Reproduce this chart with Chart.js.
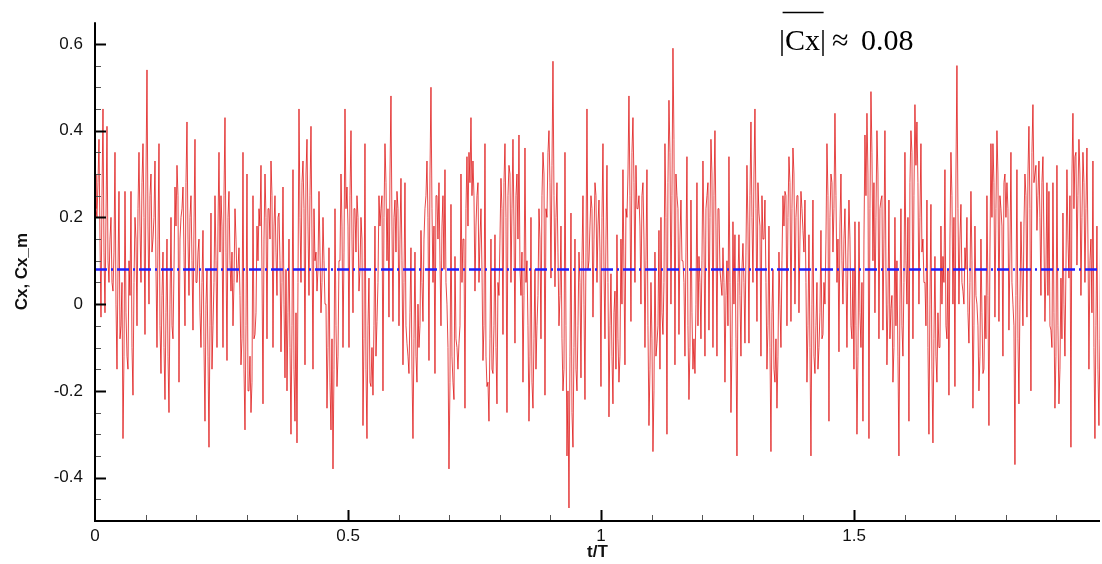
<!DOCTYPE html>
<html>
<head>
<meta charset="utf-8">
<script src="https://cdn.jsdelivr.net/npm/chart.js@4/dist/chart.umd.min.js"></script>
<style>
html,body{margin:0;padding:0;background:#fff;}
#wrap{width:1102px;height:564px;position:relative;}
</style>
</head>
<body>
<div id="wrap"><canvas id="c" width="1102" height="564"></canvas></div>
<script>
const dt = 0.001976;
// spike readings (even samples), one array per 1/8 of the record
const cx1 = [0.30,0.20,0.38,-0.03,0.45,-0.02,0.41,0.05,0.20,0.03,0.35,-0.15,0.26,-0.05,-0.31,0.26,-0.12,0.10,0.26,-0.21,0.20,-0.05,0.35,0.05,0.37,-0.07,0.54,0.00,0.30,0.15,0.33,-0.10,0.37,-0.16,0.12,-0.22,0.15,-0.25,0.20,-0.08,0.27,0.32,-0.18,0.20,0.27,-0.05,0.42,0.02,0.25,-0.06,0.38,0.05,0.15,-0.10,0.17,-0.27,0.08,-0.33,0.21,-0.05,0.25,-0.10,0.35];
const cx2 = [0.25,-0.10,0.43,-0.13,0.26,0.03,-0.05,0.22,0.05,0.13,-0.14,0.35,-0.29,0.30,-0.20,-0.25,0.25,-0.07,0.18,0.22,0.32,-0.23,0.30,-0.08,0.22,0.33,-0.10,0.25,0.02,0.21,-0.11,0.27,-0.17,-0.20,0.15,-0.30,0.31,-0.27,-0.32,0.45,0.05,0.33,-0.14,0.38,0.02,0.41,-0.15,0.10,0.03,0.26,-0.02,0.20,0.00,-0.24,0.13,-0.29,-0.38,0.22,-0.19,0.10,0.30,-0.10,0.45];
const cx3 = [0.27,-0.10,0.40,-0.02,0.22,0.25,0.03,0.20,-0.28,0.37,-0.31,0.06,-0.19,-0.21,0.18,-0.04,0.25,0.22,-0.20,0.37,0.10,-0.03,0.48,-0.04,0.24,0.26,-0.05,0.29,-0.14,0.28,-0.09,-0.16,0.13,-0.31,0.12,-0.18,-0.10,0.17,-0.04,0.22,0.33,-0.13,0.50,0.05,-0.16,0.25,0.28,-0.05,0.25,0.31,0.00,-0.38,0.23,-0.18,0.11,-0.10,-0.09,0.30,0.15,-0.24,0.34,0.35,0.43];
const cx4 = [0.33,0.03,0.25,0.05,0.22,-0.13,0.37,-0.19,-0.27,0.15,-0.16,0.16,-0.23,0.02,0.29,-0.07,0.37,-0.25,0.32,0.05,0.38,-0.09,0.30,0.39,0.02,-0.18,0.36,0.10,-0.27,0.20,-0.24,0.08,-0.05,0.22,-0.08,0.35,-0.21,0.20,0.40,0.06,0.56,0.04,0.28,-0.05,0.18,-0.20,0.35,-0.35,-0.47,0.21,-0.33,0.15,-0.20,0.12,-0.17,0.25,-0.22,0.45,0.10,0.25,-0.03,0.28,0.05];
const cx5 = [0.24,-0.19,0.37,-0.08,0.32,-0.26,0.07,-0.23,0.03,0.16,-0.18,0.15,0.31,-0.14,0.20,0.48,-0.04,0.43,0.05,0.22,0.25,0.00,0.28,-0.10,0.31,-0.28,0.05,-0.34,0.12,-0.09,0.17,0.20,-0.07,0.37,-0.30,0.47,0.00,0.59,-0.14,0.25,-0.07,0.24,0.10,-0.12,0.34,-0.22,0.24,-0.15,-0.16,0.28,0.11,-0.08,0.33,-0.12,0.25,-0.06,0.38,-0.10,0.40,-0.12,0.22,0.05,0.13];
const cx6 = [-0.18,0.10,0.34,-0.25,0.19,0.16,-0.35,0.16,-0.12,0.14,-0.09,0.32,-0.09,0.42,0.05,0.45,-0.04,0.21,-0.12,0.15,0.24,-0.15,0.18,-0.34,0.08,-0.18,-0.24,0.12,-0.10,0.25,0.26,-0.05,0.34,-0.04,0.36,0.00,0.25,-0.02,0.26,0.17,0.24,-0.18,0.16,-0.35,0.24,-0.16,0.05,-0.10,0.17,-0.07,0.00,0.37,-0.27,0.30,0.12,0.44,0.05,-0.11,0.30,0.00,0.22,-0.10,0.24];
const cx7 = [-0.05,0.08,0.19,-0.30,0.19,-0.10,-0.27,0.39,0.44,-0.31,0.49,0.10,-0.02,0.40,-0.08,0.24,-0.06,0.40,-0.14,0.24,-0.01,-0.18,0.20,0.10,-0.35,0.22,-0.12,0.35,0.00,-0.27,0.40,-0.08,0.46,0.42,0.00,0.37,0.15,0.05,0.24,-0.30,0.23,-0.32,0.11,-0.18,-0.10,0.18,0.11,0.31,-0.08,-0.21,0.35,0.00,-0.19,0.55,0.00,0.23,0.03,0.13,0.20,-0.09,0.26,-0.24,0.18];
const cx8 = [0.00,-0.20,0.15,-0.16,0.02,0.25,-0.28,0.37,0.37,-0.03,0.40,-0.04,0.22,-0.12,0.30,0.28,-0.06,0.35,0.00,-0.37,0.31,-0.23,0.19,-0.05,0.30,-0.03,0.41,-0.20,0.46,0.30,0.17,0.33,0.02,0.34,-0.04,0.28,0.26,-0.06,0.28,-0.24,0.32,-0.23,0.06,0.21,-0.12,0.31,0.06,-0.33,0.44,0.34,0.09,0.38,0.02,0.35,0.05,0.36,-0.15,0.15,0.33,-0.31,0.18,-0.28,0.30];
// core-band readings (odd samples, between the spikes)
const cm1 = [0.22,0.28,0.15,0.25,0.12,0.20,0.10,0.15,0.05,0.12,0.00,0.08,-0.08,0.05,-0.12,-0.02,-0.15,0.02,-0.10,0.05,0.15,0.22,0.18,0.28,0.20,0.30,0.18,0.25,0.12,0.20,0.08,0.15,-0.05,0.02,-0.10,-0.02,-0.12,0.00,-0.05,0.08,0.18,0.25,0.15,0.22,0.12,0.28,0.15,0.20,0.10,0.18,0.05,0.12,-0.02,0.05,-0.10,0.00,-0.12,-0.05,-0.15,0.05,0.10,0.18,0.12];
const cm2 = [0.18,0.25,0.12,0.20,0.10,0.12,0.05,0.15,0.08,0.02,-0.08,-0.15,-0.05,-0.20,-0.12,-0.18,-0.08,-0.02,0.10,0.18,0.08,0.15,0.20,0.22,0.15,0.25,0.18,0.12,0.20,0.10,0.05,0.00,0.08,-0.02,-0.10,-0.05,-0.15,-0.02,0.05,0.20,0.28,0.22,0.30,0.18,0.25,0.15,0.22,0.12,0.08,0.12,0.05,0.10,0.00,-0.10,-0.18,-0.08,-0.15,-0.05,-0.12,0.10,0.18,0.12,0.22];
const cm3 = [0.18,0.25,0.15,0.22,0.12,0.20,0.08,0.15,-0.08,-0.15,-0.05,-0.18,-0.10,-0.05,-0.12,0.05,0.18,0.25,0.20,0.28,0.22,0.30,0.18,0.20,0.12,0.22,0.15,0.10,0.05,-0.05,-0.12,-0.02,-0.15,-0.08,-0.12,0.00,-0.05,0.05,0.15,0.25,0.20,0.30,0.22,0.18,0.25,0.15,0.10,0.18,0.08,0.05,-0.10,-0.18,-0.12,-0.22,-0.08,-0.15,-0.05,0.05,0.15,0.22,0.18,0.28,0.25];
const cm4 = [0.25,0.18,0.28,0.15,0.08,-0.05,-0.12,-0.18,-0.08,-0.15,-0.05,-0.10,0.05,0.15,0.22,0.28,0.20,0.25,0.30,0.22,0.18,0.25,0.15,0.08,0.12,0.02,0.05,-0.05,-0.12,-0.18,-0.08,-0.15,0.02,0.15,0.25,0.30,0.22,0.35,0.28,0.32,0.25,0.20,0.12,0.02,-0.08,-0.15,-0.05,-0.20,-0.12,-0.25,-0.10,-0.15,-0.05,0.05,0.10,0.00,0.12,0.08,0.18,0.22,0.15,0.25,0.18];
const cm5 = [0.12,0.20,0.08,0.15,0.05,-0.05,-0.12,-0.02,-0.15,-0.08,-0.12,0.00,0.08,0.22,0.30,0.25,0.35,0.28,0.32,0.22,0.18,0.25,0.15,0.10,-0.05,-0.15,-0.08,-0.20,-0.12,-0.05,-0.15,-0.02,0.05,0.20,0.28,0.35,0.25,0.38,0.30,0.22,0.15,0.10,0.05,0.12,-0.05,-0.10,-0.02,-0.08,0.00,-0.05,0.05,0.10,0.15,0.22,0.28,0.20,0.30,0.25,0.18,0.22,0.08,0.02,0.05];
const cm6 = [0.02,-0.05,0.05,-0.10,0.00,-0.08,0.05,0.02,0.08,0.05,0.12,0.18,0.25,0.20,0.30,0.22,0.28,0.18,0.25,0.15,0.05,-0.05,-0.10,-0.02,-0.15,-0.08,-0.12,0.00,0.10,0.18,0.25,0.20,0.28,0.22,0.30,0.20,0.25,0.15,0.22,0.12,0.05,-0.05,-0.10,0.00,-0.12,-0.05,-0.15,-0.02,-0.08,0.05,0.15,0.25,0.20,0.28,0.22,0.25,0.15,0.18,0.10,0.15,0.08,0.12,0.15];
const cm7 = [-0.08,-0.15,-0.05,-0.12,-0.02,0.05,0.15,0.25,0.30,0.22,0.35,0.28,0.20,0.30,0.22,0.25,0.15,0.08,0.00,-0.08,0.02,-0.10,-0.05,-0.12,0.00,-0.05,0.05,0.10,0.20,0.28,0.35,0.25,0.32,0.28,0.20,0.12,0.05,-0.05,-0.10,0.00,-0.15,-0.08,-0.12,-0.02,-0.10,0.00,0.05,-0.05,0.08,0.15,0.25,0.20,0.30,0.22,0.15,0.05,0.00,0.08,-0.02,0.05,0.10,-0.05,0.02];
const cm8 = [-0.05,-0.12,-0.02,-0.15,-0.08,0.02,0.12,0.20,0.28,0.22,0.30,0.25,0.18,0.28,0.20,0.22,0.12,0.05,-0.05,0.02,-0.08,0.00,0.08,0.18,0.25,0.30,0.22,0.35,0.28,0.32,0.25,0.20,0.28,0.15,0.08,0.02,-0.05,-0.10,-0.02,-0.12,-0.05,-0.15,-0.08,0.00,0.08,0.15,0.25,0.30,0.22,0.35,0.25,0.30,0.20,0.28,0.22,0.15,0.10,-0.02,-0.10,-0.05,-0.15,-0.08,0.02];
const cxMean = 0.08;
const xTicks = [0, 0.5, 1, 1.5];
const yTicks = [-0.4, -0.2, 0, 0.2, 0.4, 0.6];
const xRange = [0, 1.986];
const yRange = [-0.5, 0.65];

// ---- build ----
const spikeParts = [cx1, cx2, cx3, cx4, cx5, cx6, cx7, cx8];
const coreParts = [cm1, cm2, cm3, cm4, cm5, cm6, cm7, cm8];
const cx = [];
spikeParts.forEach((part, p) => {
  part.forEach((v, i) => { cx.push(v); cx.push(coreParts[p][i]); });
});
const cxPoints = cx.map((v, i) => ({x: i * dt, y: v}));
const meanPoints = [{x: xRange[0], y: cxMean}, {x: xRange[1], y: cxMean}];

const axisPlugin = {
  id: 'axisPlugin',
  afterDatasetsDraw(chart) {
    const {ctx, chartArea: {left, right, top, bottom}, scales: {x, y}} = chart;
    ctx.save();
    for (let k = -9; k <= 12; k++) {
      const v = k * 0.05;
      const py = Math.round(y.getPixelForValue(v)) + 0.5;
      const major = (k % 4 === 0);
      ctx.lineWidth = major ? 2 : 1;
      ctx.strokeStyle = major ? '#000' : '#555';
      ctx.beginPath();
      ctx.moveTo(left, py);
      ctx.lineTo(left + (major ? 11 : 6), py);
      ctx.stroke();
    }
    for (let k = 1; k <= 19; k++) {
      const v = k * 0.1;
      const px = Math.round(x.getPixelForValue(v)) + 0.5;
      const major = (k % 5 === 0);
      ctx.lineWidth = major ? 2 : 1;
      ctx.strokeStyle = major ? '#000' : '#555';
      ctx.beginPath();
      ctx.moveTo(px, bottom);
      ctx.lineTo(px, bottom - (major ? 11 : 6));
      ctx.stroke();
    }
    ctx.strokeStyle = '#000';
    ctx.lineWidth = 2;
    ctx.beginPath();
    ctx.moveTo(left, top);
    ctx.lineTo(left, bottom);
    ctx.lineTo(right, bottom);
    ctx.stroke();

    // annotation |Cx| ≈ 0.08 with overline
    ctx.fillStyle = '#000';
    ctx.font = '30px "Liberation Serif", "Times New Roman", serif';
    ctx.textBaseline = 'alphabetic';
    ctx.textAlign = 'left';
    const bx = 779, by = 50;
    ctx.fillText('|Cx|', bx, by);
    const wBar = ctx.measureText('|').width;
    const wAll = ctx.measureText('|Cx|').width;
    ctx.lineWidth = 1.5;
    ctx.beginPath();
    ctx.moveTo(bx + wBar * 0.6, 12.5);
    ctx.lineTo(bx + wAll - wBar * 0.4, 12.5);
    ctx.stroke();
    ctx.fillText('\u2248', 832, by);
    ctx.fillText('0.08', 861, by);
    ctx.restore();
  }
};

new Chart(document.getElementById('c'), {
  type: 'line',
  data: {
    datasets: [
      {
        label: 'Cx_m',
        data: meanPoints,
        borderColor: 'rgb(30,30,255)',
        borderWidth: 2.5,
        borderDash: [12, 4, 2, 4],
        pointRadius: 0,
        fill: false
      },
      {
        label: 'Cx',
        data: cxPoints,
        borderColor: 'rgba(220,0,0,0.72)',
        borderWidth: 1,
        pointRadius: 0,
        tension: 0,
        fill: false
      }
    ]
  },
  options: {
    responsive: false,
    animation: false,
    events: [],
    layout: {padding: {top: 15, right: 2, left: 0, bottom: 0}},
    plugins: {legend: {display: false}, tooltip: {enabled: false}},
    scales: {
      x: {
        type: 'linear',
        min: xRange[0],
        max: xRange[1],
        grid: {display: false, drawTicks: false},
        border: {display: false},
        afterBuildTicks: s => { s.ticks = xTicks.map(v => ({value: v})); },
        afterFit: s => { s.height = 43; },
        ticks: {
          autoSkip: false, maxRotation: 0, padding: 5,
          color: '#111',
          font: {family: '"Liberation Sans", Arial, sans-serif', size: 17},
          callback: v => String(v)
        },
        title: {
          display: true, text: 't/T', color: '#111',
          font: {family: '"Liberation Sans", Arial, sans-serif', size: 17, weight: 'bold'},
          padding: {top: 0, bottom: 1}
        }
      },
      y: {
        type: 'linear',
        min: yRange[0],
        max: yRange[1],
        grid: {display: false, drawTicks: false},
        border: {display: false},
        afterBuildTicks: s => { s.ticks = yTicks.map(v => ({value: v})); },
        afterFit: s => { s.width = 95; },
        ticks: {
          autoSkip: false, padding: 12,
          color: '#111',
          font: {family: '"Liberation Sans", Arial, sans-serif', size: 17},
          callback: v => String(Math.round(v * 10) / 10)
        },
        title: {
          display: true, text: 'Cx, Cx_m', color: '#111',
          font: {family: '"Liberation Sans", Arial, sans-serif', size: 17, weight: 'bold'},
          padding: {top: 12, bottom: 0}
        }
      }
    }
  },
  plugins: [axisPlugin]
});
</script>
</body>
</html>
